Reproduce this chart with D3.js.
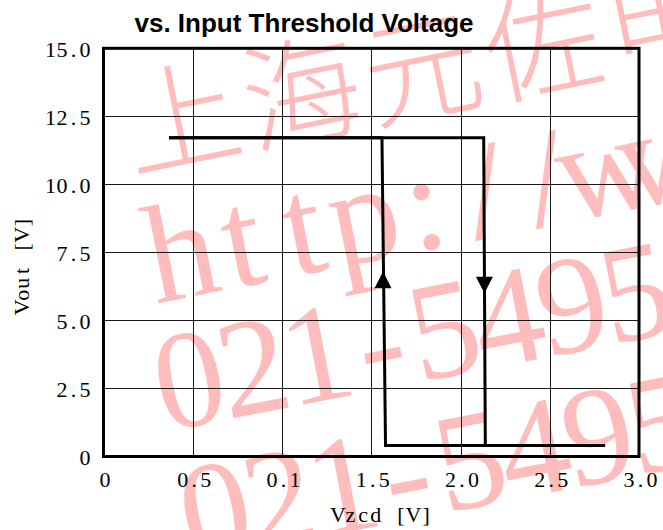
<!DOCTYPE html>
<html>
<head>
<meta charset="utf-8">
<script src="https://cdn.jsdelivr.net/npm/d3@7"></script>
<style>
  html, body { margin: 0; padding: 0; background: #fff; }
  svg { display: block; }
</style>
</head>
<body>
<svg id="chart" width="663" height="530"></svg>
<script>
// ---------- data ----------
const titleText = "vs. Input Threshold Voltage";
const xTitle = "Vzcd [V]";
const yTitle = "Vout [V]";
const xTicks = [0, 0.5, 1.0, 1.5, 2.0, 2.5, 3.0];
const xTickLabels = ["0", "0.5", "0.1", "1.5", "2.0", "2.5", "3.0"];
const yTicks = [0, 2.5, 5.0, 7.5, 10.0, 12.5, 15.0];
const yTickLabels = ["0", "2.5", "5.0", "7.5", "10.0", "12.5", "15.0"];

// rising-input branch (low -> high at ~1.57 V)
const risingX = [2.81, 1.58, 1.56, 0.367];
const risingY = [0.40, 0.40, 11.71, 11.71];
// falling branch (high -> low at ~2.13 V)
const fallingX = [0.367, 2.13, 2.139, 2.81];
const fallingY = [11.71, 11.71, 0.40, 0.40];

// direction arrows on the transitions
const arrowX = [1.566, 2.134];
const arrowY = [6.49, 6.30];
const arrowDir = ["up", "down"];

// watermark text rows
const watermarkRows = ["上海元佐电子", "http://www", "021-5495", "021-5495"];

// ---------- layout ----------
const svg = d3.select("#chart");
const W = 663, H = 530;
const x = d3.scaleLinear().domain([0, 3]).range([103.5, 639]);
const y = d3.scaleLinear().domain([0, 15]).range([456.5, 48.3]);

svg.append("rect").attr("width", W).attr("height", H).attr("fill", "#fff");

// mono-spaced placement helper: one text element, one x per character
function monoXs(str, cx, cell) {
  const chars = Array.from(str);
  const start = cx - chars.length * cell / 2;
  return chars.map((c, i) => (start + cell * (i + 0.5)).toFixed(2)).join(" ");
}

// ---------- watermark ----------
const wm = svg.append("g").attr("fill", "#ffbcbc");
const wmSpec = [
  {ox: 190, oy: 160, rot: -11.5, size: 118, cell: 123, font: "'Noto Sans CJK SC', sans-serif", weight: 300},
  {ox: 190, oy: 297, rot: -11.3, size: 140, cell: 62, font: "'Liberation Serif', serif", weight: 400},
  {ox: 198, oy: 425, rot: -11, size: 140, cell: 65, font: "'Liberation Serif', serif", weight: 400},
  {ox: 224, oy: 556, rot: -11, size: 140, cell: 65, font: "'Liberation Serif', serif", weight: 400}
];
watermarkRows.forEach((row, k) => {
  const s = wmSpec[k];
  const n = Array.from(row).length;
  wm.append("text")
    .attr("transform", `translate(${s.ox},${s.oy}) rotate(${s.rot})`)
    .attr("x", monoXs(row, (n - 1) * s.cell / 2, s.cell))
    .attr("y", 0)
    .attr("text-anchor", "middle")
    .attr("font-family", s.font)
    .attr("font-weight", s.weight)
    .attr("font-size", s.size)
    .text(row);
});

// ---------- grid ----------
const grid = svg.append("g").attr("stroke", "#1a1a1a").attr("stroke-width", 1);
grid.selectAll("line.v").data(xTicks.slice(1, -1)).join("line")
  .attr("x1", d => Math.round(x(d)) + 0.5).attr("x2", d => Math.round(x(d)) + 0.5)
  .attr("y1", y(15)).attr("y2", y(0));
grid.selectAll("line.h").data(yTicks.slice(1, -1)).join("line")
  .attr("x1", x(0)).attr("x2", x(3))
  .attr("y1", d => Math.round(y(d)) + 0.5).attr("y2", d => Math.round(y(d)) + 0.5);

// frame
svg.append("rect")
  .attr("x", x(0)).attr("y", y(15))
  .attr("width", x(3) - x(0)).attr("height", y(0) - y(15))
  .attr("fill", "none").attr("stroke", "#000").attr("stroke-width", 3);

// ---------- curves ----------
const line = d3.line().x(d => x(d[0])).y(d => y(d[1]));
const branches = [d3.zip(risingX, risingY), d3.zip(fallingX, fallingY)];
svg.append("g").selectAll("path").data(branches).join("path")
  .attr("d", line)
  .attr("fill", "none").attr("stroke", "#000").attr("stroke-width", 3)
  .attr("stroke-linejoin", "miter");

// arrows
const aw = 8.5, ah = 16.6;
svg.append("g").selectAll("path").data(d3.range(arrowX.length)).join("path")
  .attr("d", i => {
    const cx = x(arrowX[i]), cy = y(arrowY[i]);
    const s = arrowDir[i] === "up" ? -1 : 1;
    return `M${cx},${cy + s * ah / 2} L${cx - aw},${cy - s * ah / 2} L${cx + aw},${cy - s * ah / 2} Z`;
  })
  .attr("fill", "#000");

// ---------- tick labels ----------
const tickFont = "'Liberation Serif', serif";
const cell = 11.5;
svg.append("g").selectAll("text").data(d3.range(xTicks.length)).join("text")
  .attr("x", i => monoXs(xTickLabels[i], x(xTicks[i]) + 1.5, cell))
  .attr("y", 487)
  .attr("text-anchor", "middle")
  .attr("font-family", tickFont).attr("font-size", 22).attr("fill", "#000")
  .text(i => xTickLabels[i]);

svg.append("g").selectAll("text").data(d3.range(yTicks.length)).join("text")
  .attr("x", i => {
    const n = yTickLabels[i].length;
    return monoXs(yTickLabels[i], 90.8 - n * cell / 2, cell);
  })
  .attr("y", i => y(yTicks[i]) + 8.5)
  .attr("text-anchor", "middle")
  .attr("font-family", tickFont).attr("font-size", 22).attr("fill", "#000")
  .text(i => yTickLabels[i]);

// axis titles
svg.append("text")
  .attr("x", monoXs(xTitle, 382, 12.6))
  .attr("y", 521.5)
  .attr("text-anchor", "middle")
  .attr("font-family", tickFont).attr("font-size", 22).attr("fill", "#000")
  .text(xTitle);

svg.append("text")
  .attr("transform", "translate(28.5,265) rotate(-90)")
  .attr("x", monoXs(yTitle, 0, 12.1))
  .attr("y", 0)
  .attr("text-anchor", "middle")
  .attr("font-family", tickFont).attr("font-size", 22).attr("fill", "#000")
  .text(yTitle);

// title
svg.append("text")
  .attr("x", 304).attr("y", 31.5)
  .attr("text-anchor", "middle")
  .attr("font-family", "'Liberation Sans', Arial, sans-serif")
  .attr("font-weight", "bold").attr("font-size", 26).attr("fill", "#000")
  .text(titleText);
</script>
</body>
</html>
